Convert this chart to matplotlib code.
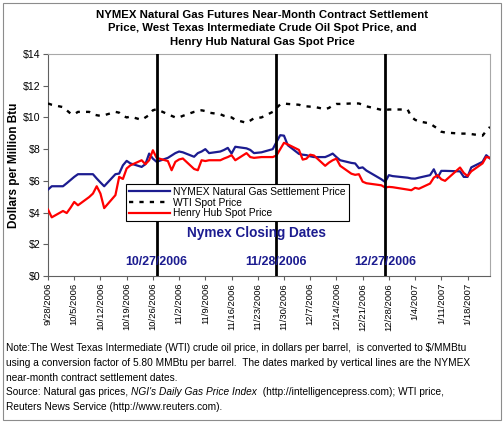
import matplotlib
matplotlib.use('Agg')
import matplotlib.pyplot as plt
import matplotlib.dates as mdates
from matplotlib.patches import Rectangle
from datetime import datetime

plt.rcParams['font.family'] = ['Liberation Sans', 'DejaVu Sans']

# ---------------- data ----------------
dates = ['2006-09-28', '2006-09-29', '2006-10-02', '2006-10-03', '2006-10-04', '2006-10-05', '2006-10-06',
         '2006-10-09', '2006-10-10', '2006-10-11', '2006-10-12', '2006-10-13',
         '2006-10-16', '2006-10-17', '2006-10-18', '2006-10-19', '2006-10-20',
         '2006-10-23', '2006-10-24', '2006-10-25', '2006-10-26', '2006-10-27',
         '2006-10-30', '2006-10-31', '2006-11-01', '2006-11-02', '2006-11-03',
         '2006-11-06', '2006-11-07', '2006-11-08', '2006-11-09', '2006-11-10',
         '2006-11-13', '2006-11-14', '2006-11-15', '2006-11-16', '2006-11-17',
         '2006-11-20', '2006-11-21', '2006-11-22', '2006-11-24',
         '2006-11-27', '2006-11-28', '2006-11-29', '2006-11-30', '2006-12-01',
         '2006-12-04', '2006-12-05', '2006-12-06', '2006-12-07', '2006-12-08',
         '2006-12-11', '2006-12-12', '2006-12-13', '2006-12-14', '2006-12-15',
         '2006-12-18', '2006-12-19', '2006-12-20', '2006-12-21', '2006-12-22',
         '2006-12-26', '2006-12-27', '2006-12-28', '2006-12-29',
         '2007-01-02', '2007-01-03', '2007-01-04', '2007-01-05',
         '2007-01-08', '2007-01-09', '2007-01-10', '2007-01-11', '2007-01-12',
         '2007-01-16', '2007-01-17', '2007-01-18', '2007-01-19',
         '2007-01-22', '2007-01-23', '2007-01-24']

nymex = [5.45, 5.66, 5.66, 5.85, 6.05, 6.25, 6.42,
         6.42, 6.42, 6.15, 5.90, 5.66,
         6.42, 6.46, 6.98, 7.26, 7.10,
         6.88, 7.05, 7.72, 7.40, 7.20,
         7.45, 7.60, 7.75, 7.85, 7.80,
         7.52, 7.75, 7.85, 8.00, 7.75,
         7.85, 7.95, 8.08, 7.72, 8.15,
         8.05, 7.95, 7.75, 7.80,
         8.00, 8.45, 8.88, 8.85, 8.25,
         7.70, 7.65, 7.62, 7.55, 7.50,
         7.50, 7.60, 7.72, 7.50, 7.30,
         7.13, 7.10, 6.80, 6.85, 6.65,
         6.10, 5.93, 6.36, 6.30,
         6.20, 6.15, 6.14, 6.20,
         6.36, 6.73, 6.20, 6.63, 6.63,
         6.60, 6.25, 6.25, 6.85,
         7.20, 7.62, 7.41]

wti = [10.88, 10.80, 10.65, 10.45, 10.25, 10.20, 10.35,
       10.35, 10.20, 10.14, 10.10, 10.14,
       10.35, 10.30, 10.10, 10.00, 10.05,
       9.85, 10.00, 10.15, 10.45, 10.52,
       10.20, 10.10, 10.00, 10.00, 10.10,
       10.35, 10.40, 10.45, 10.40, 10.30,
       10.20, 10.10, 10.04, 10.00, 9.85,
       9.66, 9.80, 9.95, 10.00,
       10.35, 10.60, 10.82, 10.88, 10.85,
       10.80, 10.72, 10.70, 10.68, 10.67,
       10.52, 10.60, 10.75, 10.85, 10.85,
       10.88, 10.88, 10.88, 10.80, 10.70,
       10.48, 10.46, 10.50, 10.50,
       10.50, 10.04, 9.85, 9.75,
       9.62, 9.45, 9.30, 9.10, 9.05,
       8.98, 8.98, 8.98, 8.95,
       8.85, 9.15, 9.40]

henry = [4.19, 3.70, 4.10, 3.97, 4.30, 4.67, 4.46,
         4.98, 5.20, 5.66, 5.20, 4.28,
         5.10, 6.25, 6.12, 6.78, 6.98,
         7.30, 7.05, 7.30, 7.93, 7.45,
         7.25, 6.67, 7.20, 7.35, 7.41,
         6.75, 6.67, 7.30, 7.25, 7.30,
         7.30, 7.41, 7.50, 7.62, 7.30,
         7.75, 7.50, 7.45, 7.50,
         7.50, 7.60, 8.00, 8.40, 8.30,
         7.95, 7.34, 7.40, 7.65, 7.60,
         6.95, 7.15, 7.30, 7.40, 6.95,
         6.45, 6.38, 6.42, 5.95, 5.85,
         5.72, 5.58, 5.62, 5.60,
         5.45, 5.41, 5.56, 5.50,
         5.83, 6.20, 6.36, 6.10, 6.00,
         6.84, 6.50, 6.30, 6.60,
         7.10, 7.51, 7.45]

settle_dates = ['2006-10-27', '2006-11-28', '2006-12-27']
settle_labels = ['10/27/2006', '11/28/2006', '12/27/2006']

tick_dates = ['2006-09-28', '2006-10-05', '2006-10-12', '2006-10-19', '2006-10-26',
              '2006-11-02', '2006-11-09', '2006-11-16', '2006-11-23', '2006-11-30',
              '2006-12-07', '2006-12-14', '2006-12-21', '2006-12-28',
              '2007-01-04', '2007-01-11', '2007-01-18']
tick_labels = ['9/28/2006', '10/5/2006', '10/12/2006', '10/19/2006', '10/26/2006',
               '11/2/2006', '11/9/2006', '11/16/2006', '11/23/2006', '11/30/2006',
               '12/7/2006', '12/14/2006', '12/21/2006', '12/28/2006',
               '1/4/2007', '1/11/2007', '1/18/2007']
y_ticks = [0, 2, 4, 6, 8, 10, 12, 14]
y_labels = ['$0', '$2', '$4', '$6', '$8', '$10', '$12', '$14']

series_names = ['NYMEX Natural Gas Settlement Price', 'WTI Spot Price', 'Henry Hub Spot Price']

title_lines = ['NYMEX Natural Gas Futures Near-Month Contract Settlement',
               'Price, West Texas Intermediate Crude Oil Spot Price, and',
               'Henry Hub Natural Gas Spot Price']

# ---------------- figure ----------------
W, H = 503, 422
fig = plt.figure(figsize=(W / 100, H / 100), dpi=100)
fig.patch.set_facecolor('white')


def fx(px):
    return px / W


def fy(py):
    return 1 - py / H


# outer frame
fig.patches.append(Rectangle((fx(2.5), fy(419.5)), fx(498), 417 / H, transform=fig.transFigure,
                             fill=False, edgecolor='#8c8c8c', linewidth=0.8))

L, R, T, B = 48, 490, 54, 276
ax = fig.add_axes([fx(L), fy(B), (R - L) / W, (B - T) / H])


def d2n(s):
    return mdates.date2num(datetime.strptime(s, '%Y-%m-%d'))


xs = [d2n(d) for d in dates]

navy = '#1c1c90'
ax.plot(xs, nymex, color=navy, lw=1.6, label=series_names[0], zorder=3)
ax.plot(xs, wti, color='black', lw=1.7, linestyle=(0, (1.8, 2.6)), label=series_names[1], zorder=3)
ax.plot(xs, henry, color='#ff0000', lw=1.6, label=series_names[2], zorder=3)

for d in settle_dates:
    ax.axvline(d2n(d), color='black', lw=2.0, zorder=4)

ax.set_xlim(d2n('2006-09-28'), d2n('2007-01-24'))
ax.set_ylim(0, 14)
ax.set_xticks([d2n(d) for d in tick_dates])
ax.set_xticklabels(tick_labels, rotation=90, fontsize=6.8)
ax.set_yticks(y_ticks)
ax.set_yticklabels(y_labels, fontsize=7.6)
ax.tick_params(axis='x', direction='out', length=3, width=0.8, color='#606060', pad=2)
ax.tick_params(axis='y', direction='out', length=3.5, width=0.8, color='#606060', pad=2)
for s in ['left', 'bottom']:
    ax.spines[s].set_color('#606060')
    ax.spines[s].set_linewidth(0.8)
for s in ['top', 'right']:
    ax.spines[s].set_color('#a8a8a8')
    ax.spines[s].set_linewidth(0.8)

leg = ax.legend(loc='upper left', bbox_to_anchor=((126 - L) / (R - L), (B - 184) / (B - T)),
                borderaxespad=0, fontsize=7.4, frameon=True, fancybox=False, framealpha=1,
                edgecolor='black', handlelength=4.0, handletextpad=0.3, labelspacing=0.05,
                borderpad=0.3)
leg.get_frame().set_linewidth(0.8)
leg.set_zorder(10)

# annotations
ax.text(0.5 * (185 + 327 - 2 * L) / (R - L), (B - 233) / (B - T), 'Nymex Closing Dates',
        transform=ax.transAxes, ha='center', va='center', fontsize=9.8, fontweight='bold',
        color=navy, zorder=6)
for d, lab in zip(settle_dates, settle_labels):
    ax.text(d2n(d), 14 * (B - 261.7) / (B - T), lab, ha='center', va='center', fontsize=8.9,
            fontweight='bold', color=navy, zorder=6)

# titles
for i, line in enumerate(title_lines):
    fig.text(fx(262), fy(15 + 13.3 * i), line, ha='center', va='center', fontsize=8.2,
             fontweight='bold')

fig.text(fx(14), fy(165), 'Dollars per Million Btu', rotation=90, ha='center', va='center',
         fontsize=8.5, fontweight='bold')

# footnote with mixed styles
renderer = fig.canvas.get_renderer()


def text_width(s, style):
    t1 = fig.text(0, 0, '|' + s + '|', fontsize=7.3, style=style)
    t2 = fig.text(0, 0, '||', fontsize=7.3, style=style)
    w = t1.get_window_extent(renderer).width - t2.get_window_extent(renderer).width
    t1.remove()
    t2.remove()
    return w


def draw_runs(x_px, y_px, runs):
    x = x_px
    for s, style in runs:
        fig.text(fx(x), fy(y_px), s, fontsize=7.3, style=style, ha='left', va='center')
        x += text_width(s, style)


note_lines = [
    [('Note:The West Texas Intermediate (WTI) crude oil price, in dollars per barrel,  is converted to $/MMBtu', 'normal')],
    [('using a conversion factor of 5.80 MMBtu per barrel.  The dates marked by vertical lines are the NYMEX', 'normal')],
    [('near-month contract settlement dates.', 'normal')],
    [('Source: Natural gas prices, ', 'normal'), ("NGI's Daily Gas Price Index", 'italic'),
     ('  (http://intelligencepress.com); WTI price,', 'normal')],
    [('Reuters News Service (http://www.reuters.com).', 'normal')],
]
note_y = [348.3, 363.0, 377.7, 391.8, 406.7]
for runs, y in zip(note_lines, note_y):
    draw_runs(6, y, runs)

fig.savefig('out.png', dpi=100)
